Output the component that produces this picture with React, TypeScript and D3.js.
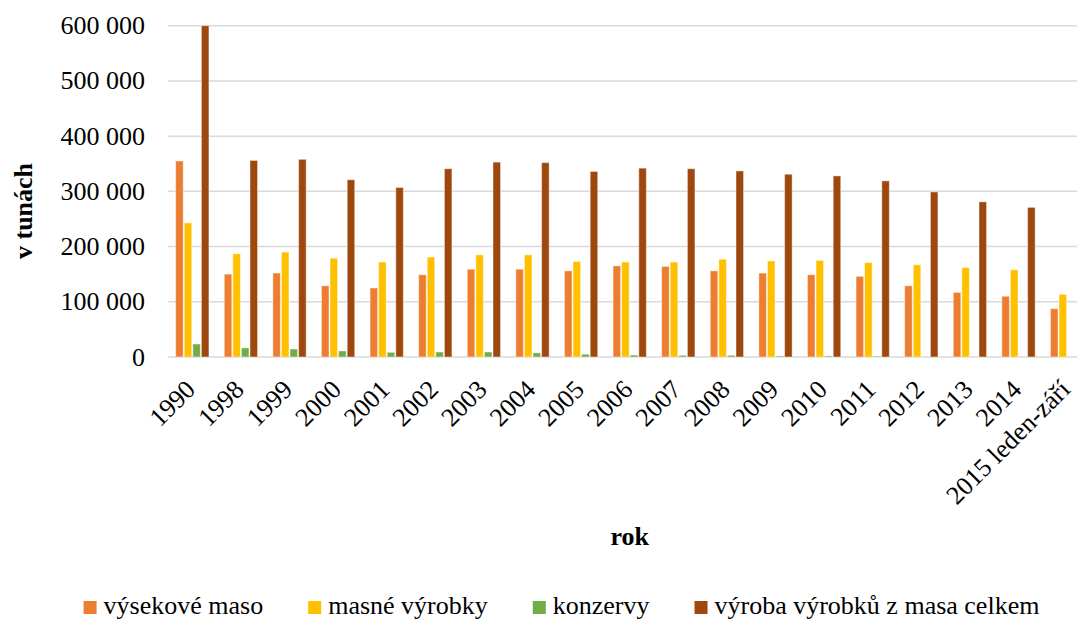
import React, { useEffect, useRef } from "react";
import * as d3 from "d3";

const categories = ["1990", "1998", "1999", "2000", "2001", "2002", "2003", "2004", "2005", "2006", "2007", "2008", "2009", "2010", "2011", "2012", "2013", "2014", "2015 leden-září"];
const seriesNames = ["výsekové maso", "masné výrobky", "konzervy", "výroba výrobků z masa celkem"];
const seriesColors = ["#ED7D31", "#FFC000", "#70AD47", "#9E480E"];
const vysekoveMaso = [355000, 150000, 152000, 129000, 125000, 149000, 159000, 159000, 156000, 165000, 164000, 156000, 152000, 149000, 146000, 129000, 117000, 110000, 87500];
const masneVyrobky = [243000, 187000, 190000, 179000, 172000, 181000, 185000, 185000, 173000, 172000, 172000, 177000, 174000, 175000, 171000, 167000, 162000, 158000, 113500];
const konzervy = [23500, 16500, 14500, 11000, 8500, 9000, 9000, 7500, 5000, 3500, 3000, 3000, 2000, 2000, 1500, 0, 0, 0, null];
const celkem = [600000, 356000, 358000, 321000, 307000, 341000, 353000, 352000, 336000, 342000, 341000, 337000, 331000, 328000, 319000, 299000, 281000, 271000, null];
const yTicks = [0, 100000, 200000, 300000, 400000, 500000, 600000];
const yTickLabels = ["0", "100 000", "200 000", "300 000", "400 000", "500 000", "600 000"];

const W = 1077;
const H = 619;
const FONT = "'Liberation Serif', 'Times New Roman', serif";

export default function App() {
  const ref = useRef<SVGSVGElement | null>(null);

  useEffect(() => {
    const svg = d3.select(ref.current);
    svg.selectAll("*").remove();

    const left = 168, right = 1091.4, top = 25.7, bottom = 357;
    const x0 = d3.scaleBand<string>().domain(categories).range([left, right]).paddingInner(0.315).paddingOuter(0.1575);
    const x1 = d3.scaleBand<number>().domain([0, 1, 2, 3]).range([0, x0.bandwidth()]).paddingInner(0.12).paddingOuter(0);
    const y = d3.scaleLinear().domain([0, 600000]).range([bottom, top]);

    // gridlines
    svg.append("g").selectAll("line").data(yTicks).join("line")
      .attr("x1", left).attr("x2", right)
      .attr("y1", (d) => y(d)).attr("y2", (d) => y(d))
      .attr("stroke", "#D9D9D9").attr("stroke-width", 1.5);

    // y labels
    svg.append("g").selectAll("text").data(yTicks).join("text")
      .attr("x", 145).attr("y", (d) => y(d))
      .attr("text-anchor", "end").attr("dominant-baseline", "central")
      .attr("font-family", FONT).attr("font-size", 26).attr("fill", "#000")
      .text((d, i) => yTickLabels[i]);

    const allSeries = [vysekoveMaso, masneVyrobky, konzervy, celkem];
    const g = svg.append("g");
    allSeries.forEach((vals, si) => {
      g.append("g").selectAll("rect")
        .data(vals.map((v, i) => ({ v, c: categories[i] })).filter((d) => d.v !== null && (d.v as number) > 0))
        .join("rect")
        .attr("x", (d) => (x0(d.c) as number) + (x1(si) as number))
        .attr("width", x1.bandwidth())
        .attr("y", (d) => y(d.v as number))
        .attr("height", (d) => bottom - y(d.v as number))
        .attr("fill", seriesColors[si])
        .attr("stroke", "#fff").attr("stroke-opacity", 0.45).attr("stroke-width", 1);
    });

    // x labels
    svg.append("g").selectAll("text").data(categories).join("text")
      .attr("transform", (d) => {
        const cx = (x0(d) as number) + x0.bandwidth() / 2 + 4.5;
        return `translate(${cx},391) rotate(-45)`;
      })
      .attr("text-anchor", "end")
      .attr("font-family", FONT).attr("font-size", 26).attr("fill", "#000")
      .text((d) => d);

    // axis titles
    svg.append("text").attr("x", (left + right) / 2).attr("y", 545)
      .attr("text-anchor", "middle").attr("font-family", FONT).attr("font-size", 26)
      .attr("font-weight", "bold").text("rok");
    svg.append("text").attr("transform", "translate(32,211) rotate(-90)")
      .attr("text-anchor", "middle").attr("font-family", FONT).attr("font-size", 26)
      .attr("font-weight", "bold").text("v tunách");

    // legend
    const lg = svg.append("g");
    const items = seriesNames.map((name, i) => {
      const t = lg.append("text").attr("y", 614).attr("font-family", FONT).attr("font-size", 26).attr("fill", "#000").text(name);
      const w = (t.node() as SVGTextElement).getComputedTextLength();
      return { t, w, i };
    });
    const sq = 13, gapSq = 7, gapItem = 45;
    const total = items.reduce((s, it) => s + sq + gapSq + it.w, 0) + gapItem * (items.length - 1);
    let cur = 561.5 - total / 2;
    items.forEach((it) => {
      lg.append("rect").attr("x", cur).attr("y", 601).attr("width", sq).attr("height", sq).attr("fill", seriesColors[it.i]);
      it.t.attr("x", cur + sq + gapSq);
      cur += sq + gapSq + it.w + gapItem;
    });
  }, []);

  return (
    <svg ref={ref} width={W} height={H} style={{ position: "absolute", left: 0, top: 0, background: "#fff" }} />
  );
}
